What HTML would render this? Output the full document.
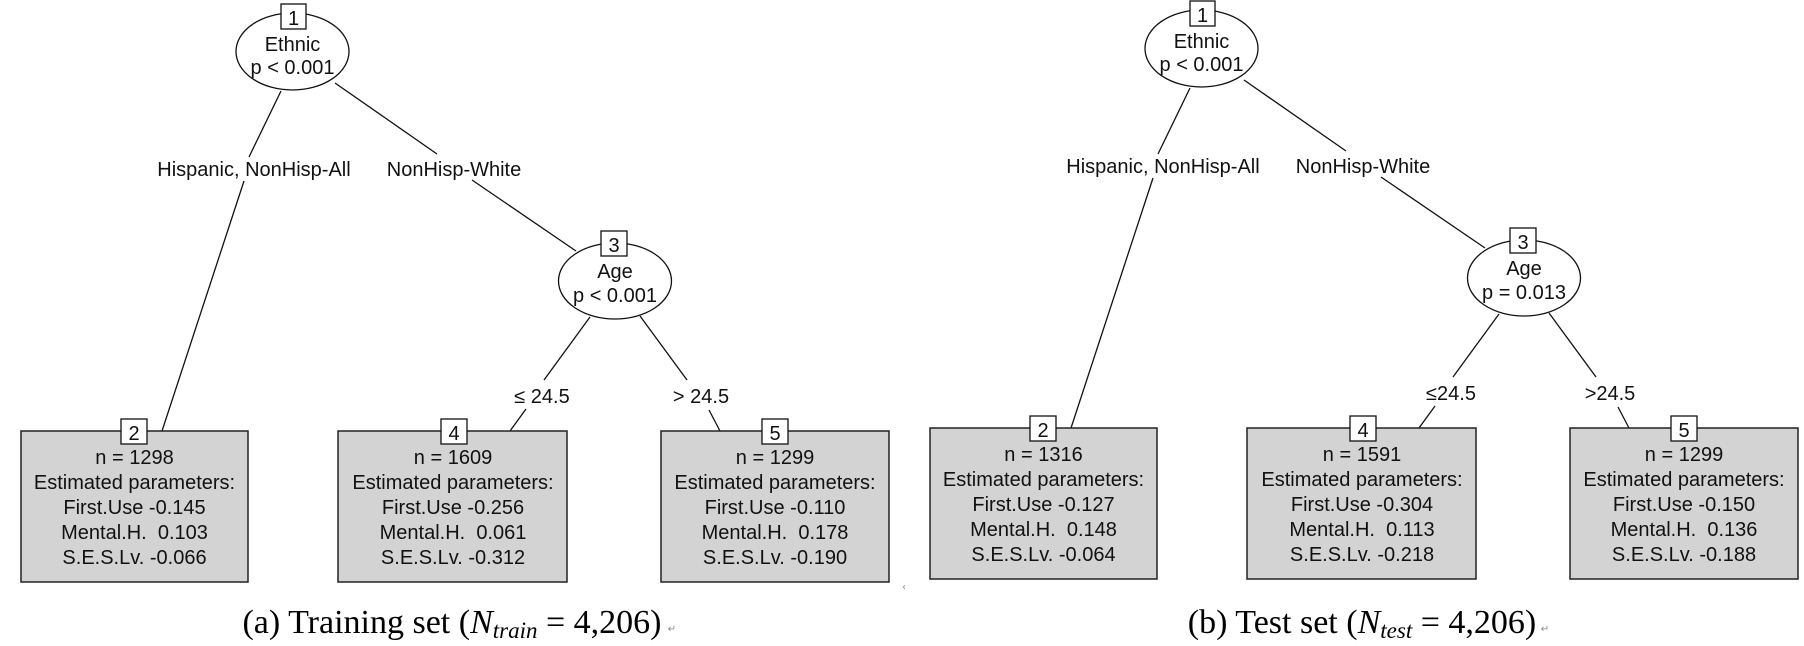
<!DOCTYPE html>
<html><head><meta charset="utf-8"><style>
html,body{margin:0;padding:0;background:#fff;}
svg{display:block;}
text{font-family:"Liberation Sans",sans-serif;font-size:20px;fill:#111;text-anchor:middle;white-space:pre;}
.cap{font-family:"Liberation Serif",serif;font-size:34px;fill:#000;}
.mk{font-family:"DejaVu Sans",sans-serif;font-size:10px;fill:#888;}
</style></head><body>
<svg width="1804" height="646" viewBox="0 0 1804 646" xmlns="http://www.w3.org/2000/svg" xml:space="preserve">
<g stroke="#111" stroke-width="1.3" fill="none">
<line x1="281" y1="91" x2="249" y2="157"/>
<line x1="244" y1="181" x2="162" y2="431"/>
<line x1="335" y1="83" x2="437" y2="154"/>
<line x1="472" y1="180" x2="576" y2="251"/>
<line x1="590" y1="317" x2="544" y2="380"/>
<line x1="526" y1="409" x2="510" y2="431"/>
<line x1="640" y1="316" x2="687" y2="380"/>
<line x1="709" y1="410" x2="720" y2="431"/>
<g transform="translate(909,-3)">
<line x1="281" y1="91" x2="249" y2="157"/>
<line x1="244" y1="181" x2="162" y2="431"/>
<line x1="335" y1="83" x2="437" y2="154"/>
<line x1="472" y1="180" x2="576" y2="251"/>
<line x1="590" y1="317" x2="544" y2="380"/>
<line x1="526" y1="409" x2="510" y2="431"/>
<line x1="640" y1="316" x2="687" y2="380"/>
<line x1="709" y1="410" x2="720" y2="431"/>
</g>
</g>

<g>
<ellipse cx="292.5" cy="51.5" rx="56.5" ry="38.5" fill="#fff" stroke="#111" stroke-width="1.3"/>
<rect x="281" y="4" width="25" height="25" fill="#fff" stroke="#111" stroke-width="1.3"/>
<text x="293.5" y="25">1</text>
<text x="292.5" y="51">Ethnic</text>
<text x="292.5" y="74">p &lt; 0.001</text>
<text x="254" y="176">Hispanic, NonHisp-All</text>
<text x="454" y="176">NonHisp-White</text>

<ellipse cx="615" cy="281" rx="56.5" ry="38" fill="#fff" stroke="#111" stroke-width="1.3"/>
<rect x="601" y="231" width="26" height="25" fill="#fff" stroke="#111" stroke-width="1.3"/>
<text x="614" y="252">3</text>
<text x="615" y="278">Age</text>
<text x="615" y="302">p &lt; 0.001</text>
<text x="542" y="403">≤ 24.5</text>
<text x="701" y="403">&gt; 24.5</text>

<rect x="21" y="431" width="227" height="151" fill="#d3d3d3" stroke="#222" stroke-width="1.5"/>
<rect x="338" y="431" width="229" height="151" fill="#d3d3d3" stroke="#222" stroke-width="1.5"/>
<rect x="661" y="431" width="228" height="151" fill="#d3d3d3" stroke="#222" stroke-width="1.5"/>
<rect x="121" y="419" width="26" height="25" fill="#fff" stroke="#111" stroke-width="1.3"/>
<rect x="441" y="419" width="26" height="25" fill="#fff" stroke="#111" stroke-width="1.3"/>
<rect x="762" y="419" width="26" height="25" fill="#fff" stroke="#111" stroke-width="1.3"/>
<text x="134" y="440">2</text>
<text x="454" y="440">4</text>
<text x="775" y="440">5</text>

<g transform="translate(134.5,0)">
<text y="464">n = 1298</text><text y="489">Estimated parameters:</text><text y="514">First.Use -0.145</text><text y="539">Mental.H.  0.103</text><text y="564">S.E.S.Lv. -0.066</text>
</g>
<g transform="translate(453,0)">
<text y="464">n = 1609</text><text y="489">Estimated parameters:</text><text y="514">First.Use -0.256</text><text y="539">Mental.H.  0.061</text><text y="564">S.E.S.Lv. -0.312</text>
</g>
<g transform="translate(775,0)">
<text y="464">n = 1299</text><text y="489">Estimated parameters:</text><text y="514">First.Use -0.110</text><text y="539">Mental.H.  0.178</text><text y="564">S.E.S.Lv. -0.190</text>
</g>
<text class="cap" x="452" y="633">(a) Training set (<tspan font-style="italic">N</tspan><tspan font-style="italic" font-size="23px" dy="5">train</tspan><tspan dy="-5"> = 4,206)</tspan></text>
<text class="mk" x="672" y="632">↵</text>
</g>

<g transform="translate(909,-3)">
<ellipse cx="292.5" cy="51.5" rx="56.5" ry="38.5" fill="#fff" stroke="#111" stroke-width="1.3"/>
<rect x="281" y="4" width="25" height="25" fill="#fff" stroke="#111" stroke-width="1.3"/>
<text x="293.5" y="25">1</text>
<text x="292.5" y="51">Ethnic</text>
<text x="292.5" y="74">p &lt; 0.001</text>
<text x="254" y="176">Hispanic, NonHisp-All</text>
<text x="454" y="176">NonHisp-White</text>

<ellipse cx="615" cy="281" rx="56.5" ry="38" fill="#fff" stroke="#111" stroke-width="1.3"/>
<rect x="601" y="231" width="26" height="25" fill="#fff" stroke="#111" stroke-width="1.3"/>
<text x="614" y="252">3</text>
<text x="615" y="278">Age</text>
<text x="615" y="302">p = 0.013</text>
<text x="542" y="403">≤24.5</text>
<text x="701" y="403">&gt;24.5</text>

<rect x="21" y="431" width="227" height="151" fill="#d3d3d3" stroke="#222" stroke-width="1.5"/>
<rect x="338" y="431" width="229" height="151" fill="#d3d3d3" stroke="#222" stroke-width="1.5"/>
<rect x="661" y="431" width="228" height="151" fill="#d3d3d3" stroke="#222" stroke-width="1.5"/>
<rect x="121" y="419" width="26" height="25" fill="#fff" stroke="#111" stroke-width="1.3"/>
<rect x="441" y="419" width="26" height="25" fill="#fff" stroke="#111" stroke-width="1.3"/>
<rect x="762" y="419" width="26" height="25" fill="#fff" stroke="#111" stroke-width="1.3"/>
<text x="134" y="440">2</text>
<text x="454" y="440">4</text>
<text x="775" y="440">5</text>

<g transform="translate(134.5,0)">
<text y="464">n = 1316</text><text y="489">Estimated parameters:</text><text y="514">First.Use -0.127</text><text y="539">Mental.H.  0.148</text><text y="564">S.E.S.Lv. -0.064</text>
</g>
<g transform="translate(453,0)">
<text y="464">n = 1591</text><text y="489">Estimated parameters:</text><text y="514">First.Use -0.304</text><text y="539">Mental.H.  0.113</text><text y="564">S.E.S.Lv. -0.218</text>
</g>
<g transform="translate(775,0)">
<text y="464">n = 1299</text><text y="489">Estimated parameters:</text><text y="514">First.Use -0.150</text><text y="539">Mental.H.  0.136</text><text y="564">S.E.S.Lv. -0.188</text>
</g>
</g>
<text class="cap" x="1362" y="633">(b) Test set (<tspan font-style="italic">N</tspan><tspan font-style="italic" font-size="23px" dy="5">test</tspan><tspan dy="-5"> = 4,206)</tspan></text>
<text class="mk" x="1545" y="632">↵</text>
<text class="mk" x="904" y="590">‹</text>
</svg>
</body></html>
